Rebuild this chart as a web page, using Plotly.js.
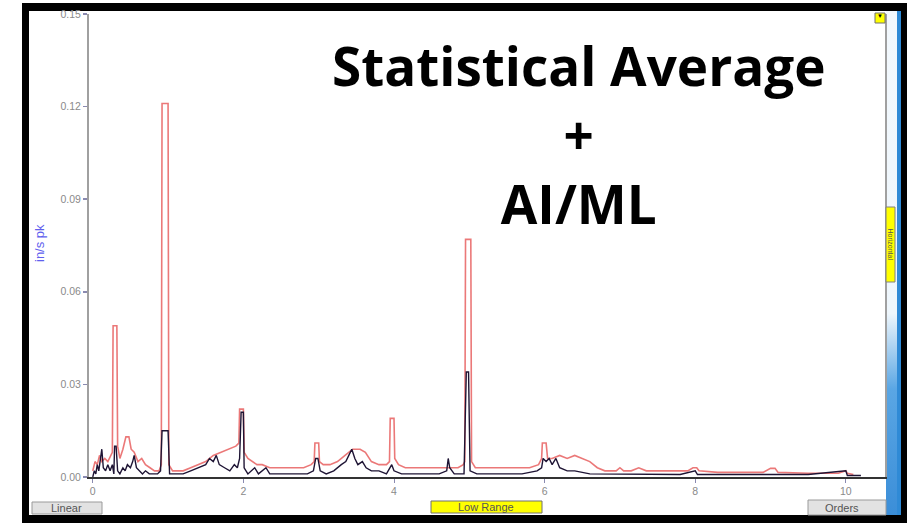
<!DOCTYPE html>
<html>
<head>
<meta charset="utf-8">
<script src="https://cdn.plot.ly/plotly-3.0.1.min.js"></script>
<style>
  html, body { margin:0; padding:0; background:#fff; }
  #wrap { position:relative; width:907px; height:523px; overflow:hidden; background:#fff; }
  #frame { position:absolute; left:22px; top:3px; width:885px; height:520px; background:#000; }
  #inner { position:absolute; left:29px; top:11px; width:872px; height:504px; background:#fff; }
  #strip { position:absolute; left:886px; top:11px; width:11px; height:504px;
           background:linear-gradient(to bottom, #f2f8fd 0%, #eef6fc 60%, #5aa6e4 75%, #3b8ed8 100%); }
  #strip2 { position:absolute; left:897px; top:11px; width:4px; height:504px; background:#2f8ad6; }
  #chart { position:absolute; left:0; top:0; width:907px; height:523px; }
</style>
</head>
<body>
<div id="wrap">
  <div id="frame"></div>
  <div id="inner"></div>
  <div id="strip"></div>
  <div id="strip2"></div>
  <div id="chart"></div>
</div>
<script>
// ---- data ----
const redX = [0.00,0.03,0.06,0.09,0.12,0.16,0.20,0.24,0.26,0.27,0.32,0.33,0.36,0.40,0.44,0.48,0.51,0.55,0.60,0.65,0.70,0.76,0.82,0.88,0.91,0.92,1.00,1.01,1.06,1.12,1.20,1.30,1.40,1.50,1.60,1.70,1.80,1.90,1.94,1.95,2.00,2.01,2.06,2.12,2.18,2.25,2.35,2.50,2.65,2.80,2.90,2.94,2.95,3.00,3.01,3.06,3.15,3.25,3.35,3.45,3.55,3.62,3.70,3.80,3.90,3.94,3.95,4.00,4.01,4.06,4.15,4.30,4.50,4.70,4.85,4.92,4.94,4.95,5.02,5.03,5.08,5.20,5.40,5.60,5.80,5.92,5.96,5.97,6.02,6.04,6.10,6.20,6.30,6.40,6.50,6.60,6.70,6.80,6.95,7.00,7.05,7.15,7.25,7.35,7.50,7.70,7.90,7.97,8.02,8.05,8.30,8.60,8.90,9.00,9.06,9.10,9.50,9.90,10.00,10.02,10.10];
const redY = [0.002,0.005,0.004,0.007,0.005,0.006,0.005,0.007,0.008,0.049,0.049,0.010,0.006,0.009,0.013,0.013,0.009,0.008,0.005,0.006,0.004,0.003,0.002,0.002,0.004,0.121,0.121,0.004,0.002,0.002,0.002,0.003,0.004,0.005,0.007,0.008,0.009,0.010,0.011,0.022,0.022,0.008,0.006,0.005,0.004,0.004,0.003,0.003,0.003,0.003,0.004,0.005,0.011,0.011,0.005,0.004,0.004,0.005,0.007,0.009,0.009,0.008,0.005,0.004,0.004,0.005,0.019,0.019,0.006,0.004,0.003,0.003,0.003,0.003,0.003,0.004,0.005,0.077,0.077,0.005,0.003,0.003,0.003,0.003,0.003,0.004,0.006,0.011,0.011,0.006,0.006,0.007,0.006,0.007,0.006,0.005,0.003,0.002,0.002,0.003,0.002,0.002,0.003,0.002,0.002,0.002,0.002,0.003,0.003,0.002,0.0015,0.0015,0.0015,0.0028,0.0028,0.0015,0.0012,0.0012,0.002,0.0012,0.0008];

const darkX = [0.00,0.02,0.04,0.06,0.08,0.10,0.12,0.14,0.17,0.20,0.23,0.26,0.28,0.29,0.31,0.33,0.36,0.40,0.43,0.46,0.50,0.53,0.55,0.58,0.62,0.66,0.70,0.75,0.80,0.86,0.90,0.92,1.00,1.02,1.10,1.20,1.30,1.40,1.50,1.55,1.60,1.64,1.68,1.75,1.82,1.88,1.92,1.95,1.97,2.00,2.01,2.06,2.10,2.15,2.20,2.25,2.30,2.35,2.45,2.55,2.70,2.85,2.93,2.96,2.99,3.02,3.10,3.20,3.30,3.36,3.40,3.44,3.48,3.52,3.58,3.63,3.70,3.80,3.90,3.97,4.00,4.10,4.20,4.40,4.60,4.70,4.72,4.74,4.80,4.93,4.96,4.99,5.01,5.10,5.30,5.50,5.70,5.90,5.96,5.98,6.02,6.06,6.10,6.15,6.20,6.30,6.40,6.60,6.80,7.00,7.20,7.50,7.80,8.00,8.03,8.50,9.00,9.50,10.00,10.02,10.20];
const darkY = [0.000,0.002,0.001,0.004,0.002,0.006,0.009,0.003,0.002,0.004,0.002,0.004,0.001,0.010,0.010,0.002,0.001,0.003,0.002,0.004,0.003,0.005,0.007,0.003,0.002,0.001,0.002,0.001,0.001,0.001,0.002,0.015,0.015,0.001,0.001,0.001,0.002,0.003,0.004,0.006,0.005,0.007,0.004,0.003,0.002,0.004,0.003,0.006,0.021,0.021,0.003,0.001,0.002,0.003,0.001,0.002,0.003,0.001,0.001,0.001,0.001,0.001,0.002,0.006,0.006,0.002,0.001,0.002,0.004,0.005,0.007,0.009,0.006,0.004,0.005,0.003,0.002,0.002,0.001,0.004,0.002,0.001,0.001,0.001,0.001,0.002,0.006,0.003,0.001,0.001,0.034,0.034,0.002,0.001,0.001,0.001,0.001,0.002,0.003,0.006,0.005,0.006,0.004,0.006,0.003,0.002,0.002,0.001,0.001,0.0008,0.001,0.0008,0.0008,0.002,0.0008,0.0008,0.0008,0.0008,0.002,0.0005,0.0005];

const xTickVals = [0,2,4,6,8,10];
const xTickText = ['0','2','4','6','8','10'];
const yTickVals = [0,0.03,0.06,0.09,0.12,0.15];
const yTickText = ['0.00','0.03','0.06','0.09','0.12','0.15'];
const yTitle = 'in/s pk';
const titleLines = ['Statistical Average','+','AI/ML'];
const buttonLabels = ['Linear','Low Range','Orders','Horizontal'];

// ---- layout helpers (pixel -> paper) ----
const L = 89, R = 22, T = 14, B = 46, W = 907, H = 523;
const pw = W - L - R, ph = H - T - B;
const px = v => (v - L) / pw;
const py = v => (H - B - v) / ph;

function rect(x0, y0, x1, y1, fill, line, lw) {
  return {type:'rect', xref:'paper', yref:'paper', x0:px(x0), x1:px(x1), y0:py(y1), y1:py(y0),
          fillcolor:fill, line:{color:line, width:lw === undefined ? 1 : lw}, layer:'above'};
}
function txt(x, y, text, size, color, opts) {
  return Object.assign({xref:'paper', yref:'paper', x:px(x), y:py(y), text:text, showarrow:false,
          xanchor:'center', yanchor:'middle',
          font:{family:'Liberation Sans, Arial, sans-serif', size:size, color:color}}, opts || {});
}

const titleFont = {family:'Open Sans, sans-serif', size:53, color:'#000', weight:700};
const tickFont = {family:'Liberation Sans, Arial, sans-serif', size:10.5, color:'#8a8a8a'};

const data = [
  {x:redX, y:redY, type:'scatter', mode:'lines', line:{color:'rgba(232,96,96,0.85)', width:1.6}, hoverinfo:'skip'},
  {x:darkX, y:darkY, type:'scatter', mode:'lines', line:{color:'#1e1434', width:1.4}, hoverinfo:'skip'}
];

const layout = {
  width:W, height:H,
  margin:{l:L, r:R, t:T, b:B},
  paper_bgcolor:'rgba(0,0,0,0)',
  plot_bgcolor:'#ffffff',
  showlegend:false,
  xaxis:{range:[-0.05,10.52], showgrid:false, zeroline:false, showline:true, linecolor:'#333', linewidth:1.5,
         ticks:'outside', ticklen:4, tickwidth:1, tickcolor:'#8a8ab0',
         tickvals:xTickVals, ticktext:xTickText, tickfont:tickFont},
  yaxis:{range:[0,0.15], showgrid:false, zeroline:false, showline:true, mirror:true, linecolor:'#a0a0a0', linewidth:2,
         ticks:'outside', ticklen:4, tickwidth:1.5, tickcolor:'#8a8ab0',
         tickvals:yTickVals, ticktext:yTickText, tickfont:tickFont},
  shapes:[
    rect(32, 502, 102, 514, '#e2e2e2', '#9a9a9a'),
    rect(431, 501, 542, 513, '#ffff00', '#707070'),
    rect(808, 500, 886, 515, '#e2e2e2', '#9a9a9a'),
    rect(886, 207, 895, 282, '#ffff00', '#808080'),
    rect(875, 13, 885, 23, '#ffff00', '#707070')
  ],
  annotations:[
    {xref:'paper', yref:'paper', x:px(579), y:py(134), xanchor:'center', yanchor:'middle', showarrow:false,
     align:'center', font:titleFont, text:titleLines.join('<br>')},
    txt(39, 243, yTitle, 13, '#6060ee', {textangle:-90}),
    txt(66, 508, buttonLabels[0], 11, '#555'),
    txt(486, 507, buttonLabels[1], 11, '#555'),
    txt(842, 507.5, buttonLabels[2], 11, '#555'),
    txt(890.5, 244, buttonLabels[3], 7, '#555', {textangle:90}),
    txt(880, 16, '\u25BC', 6, '#000')
  ]
};

Plotly.newPlot('chart', data, layout, {staticPlot:true, displayModeBar:false});
</script>
</body>
</html>
